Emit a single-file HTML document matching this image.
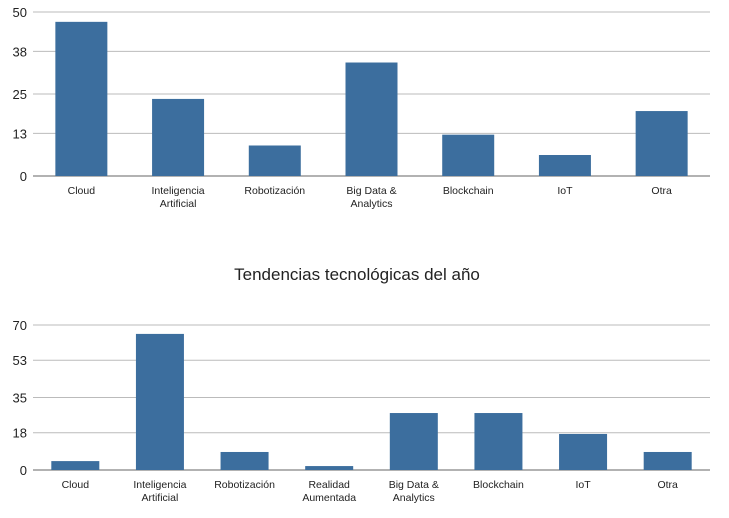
<!DOCTYPE html>
<html><head><meta charset="utf-8">
<style>
body{margin:0;background:#fff;font-family:"Liberation Sans",sans-serif;}
svg text{font-family:"Liberation Sans",sans-serif;fill:#222;}
</style></head>
<body>
<svg id="c" width="729" height="513"></svg>
<script>
const topCats=[["Cloud"],["Inteligencia","Artificial"],["Robotización"],["Big Data &","Analytics"],["Blockchain"],["IoT"],["Otra"]];
const topVals=[47,23.5,9.3,34.6,12.6,6.4,19.8];
const topTicks=[0,13,25,38,50];
const botCats=[["Cloud"],["Inteligencia","Artificial"],["Robotización"],["Realidad","Aumentada"],["Big Data &","Analytics"],["Blockchain"],["IoT"],["Otra"]];
const botVals=[4.3,65.7,8.7,1.9,27.5,27.5,17.4,8.7];
const botTicks=[0,18,35,53,70];
const NS="http://www.w3.org/2000/svg";
const svg=document.getElementById('c');
function mk(t,a){const e=document.createElementNS(NS,t);for(const k in a)e.setAttribute(k,a[k]);svg.appendChild(e);return e;}
function chart(name,cats,vals,ticks,y0,y1,x0,x1,bw){
  const max=ticks[ticks.length-1];
  const ys=v=>y0-(v/max)*(y0-y1);
  const band=(x1-x0)/cats.length;
  ticks.forEach(t=>{
    const l=mk('line',{x1:x0,x2:x1,y1:ys(t),y2:ys(t),stroke:t===0?'#666':'#bbb','stroke-width':1});
    
    
    const tx=mk('text',{x:x0-6,y:ys(t)+5,'text-anchor':'end','font-size':13});
    tx.textContent=t;
    
    
  });
  vals.forEach((v,i)=>{
    const cx=x0+band*(i+0.5);
    const r=mk('rect',{x:cx-bw/2,y:ys(v),width:bw,height:ys(0)-ys(v),fill:'#3c6e9e'});
    
    
    cats[i].forEach((s,j)=>{
      const t=mk('text',{x:cx,y:y0+18+j*13,'text-anchor':'middle','font-size':10.5});
      t.textContent=s;
      
      
    });
  });
}
chart('top-chart',topCats,topVals,topTicks,176,12,33,710,52);
chart('bottom-chart',botCats,botVals,botTicks,470,325,33,710,48);
const title=mk('text',{x:357,y:280,'text-anchor':'middle','font-size':17});
title.textContent='Tendencias tecnológicas del año';


</script>
</body></html>
